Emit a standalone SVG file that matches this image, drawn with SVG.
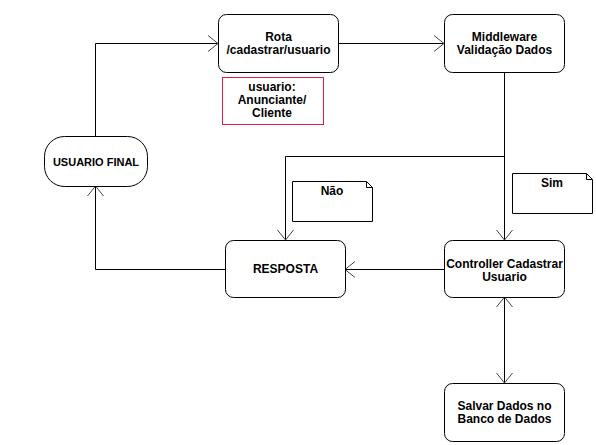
<svg xmlns="http://www.w3.org/2000/svg" width="596" height="445" viewBox="0 0 596 445">
<style>
.box{fill:#fff;stroke:#000;stroke-width:1}
.note{fill:#fff;stroke:#000;stroke-width:1}
.red{fill:#fff;stroke:#e8174a;stroke-width:1}
.t{font-family:"Liberation Sans",Arial,sans-serif;font-weight:bold;font-size:12px;fill:#000;text-anchor:middle}
.c{fill:none;stroke:#000;stroke-width:1}
</style>
<defs>
<marker id="arr" markerUnits="userSpaceOnUse" markerWidth="14" markerHeight="20" viewBox="-12 -10 14 20" refX="0" refY="0" orient="auto-start-reverse">
<path d="M-10,-8 L0,0 L-10,8" fill="none" stroke="#444" stroke-width="1"/>
</marker>
</defs>
<rect width="596" height="445" fill="#fff"/>
<g id="connectors">
<path class="c" d="M95.5,136 V43.5 H218" marker-end="url(#arr)"/>
<path class="c" d="M338,43.5 H444" marker-end="url(#arr)"/>
<path class="c" d="M504.5,72 V240" marker-end="url(#arr)"/>
<path class="c" d="M504.5,156.5 H285.5 V240" marker-end="url(#arr)"/>
<path class="c" d="M444,269.5 H345" marker-end="url(#arr)"/>
<path class="c" d="M225,269.5 H95.5 V186" marker-end="url(#arr)"/>
<path class="c" d="M504.5,297 V383" marker-start="url(#arr)" marker-end="url(#arr)"/>
</g>
<g id="rota">
<rect class="box" x="218.5" y="14.5" width="120" height="58" rx="8"/>
<text class="t" x="278.5" y="40.5">Rota</text>
<text class="t" x="278.5" y="53.5">/cadastrar/usuario</text>
</g>
<g id="middleware">
<rect class="box" x="444.5" y="14.5" width="120" height="58" rx="8"/>
<text class="t" x="504.5" y="40.5">Middleware</text>
<text class="t" x="504.5" y="53.5">Validação Dados</text>
</g>
<g id="usuario-note">
<rect class="red" x="222.5" y="77.5" width="101" height="47"/>
<text class="t" x="272" y="91">usuario:</text>
<text class="t" x="272" y="104">Anunciante/</text>
<text class="t" x="272" y="117">Cliente</text>
</g>
<g id="usuario-final">
<rect class="box" x="44.5" y="136.5" width="103" height="50" rx="20"/>
<text class="t" x="96" y="166" style="font-size:11px">USUARIO FINAL</text>
</g>
<g id="nao">
<path class="note" d="M292.5,181.5 H366.5 L372.5,187.5 V221.5 H292.5 Z"/>
<path class="c" d="M366.5,181.5 V187.5 H372.5" stroke="#888"/>
<text class="t" x="332" y="195">Não</text>
</g>
<g id="sim">
<path class="note" d="M512.5,173.5 H586.5 L592.5,179.5 V213.5 H512.5 Z"/>
<path class="c" d="M586.5,173.5 V179.5 H592.5" stroke="#888"/>
<text class="t" x="552" y="187">Sim</text>
</g>
<g id="resposta">
<rect class="box" x="225.5" y="240.5" width="120" height="57" rx="8"/>
<text class="t" x="285.5" y="273">RESPOSTA</text>
</g>
<g id="controller">
<rect class="box" x="444.5" y="240.5" width="120" height="57" rx="8"/>
<text class="t" x="504.5" y="267.5">Controller Cadastrar</text>
<text class="t" x="504.5" y="280.5">Usuario</text>
</g>
<g id="salvar">
<rect class="box" x="444.5" y="383.5" width="120" height="58" rx="8"/>
<text class="t" x="504.5" y="409.5">Salvar Dados no</text>
<text class="t" x="504.5" y="422.5">Banco de Dados</text>
</g>
</svg>
